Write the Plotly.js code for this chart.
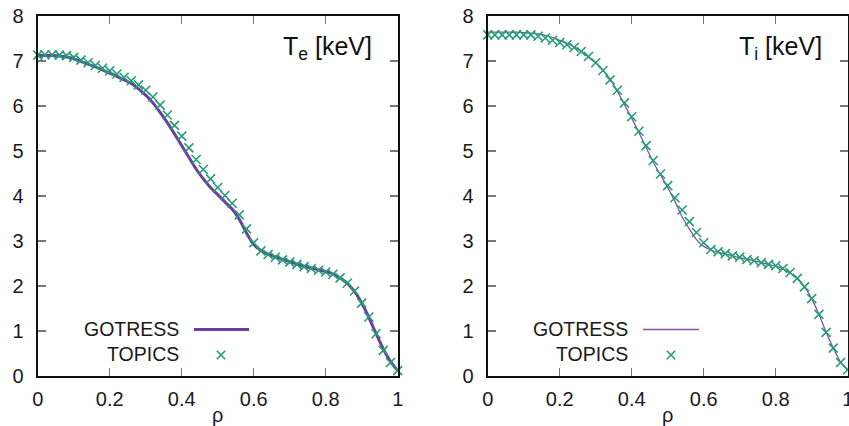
<!DOCTYPE html>
<html><head><meta charset="utf-8">
<script src="https://cdn.plot.ly/plotly-3.0.1.min.js"></script>
<style>html,body{margin:0;padding:0;background:#fff}</style>
</head><body><div id="chart" style="width:849px;height:426px"></div>
<script>
// ---- data ----
const rho = [0,0.02,0.04,0.06,0.08,0.10,0.12,0.14,0.16,0.18,0.20,0.22,0.24,0.26,0.28,0.30,0.32,0.34,0.36,0.38,0.40,0.42,0.44,0.46,0.48,0.50,0.52,0.54,0.56,0.58,0.60,0.62,0.64,0.66,0.68,0.70,0.72,0.74,0.76,0.78,0.80,0.82,0.84,0.86,0.88,0.90,0.92,0.94,0.96,0.98,1.00];
const teGotress = [7.12,7.12,7.12,7.11,7.09,7.05,6.99,6.93,6.87,6.80,6.73,6.66,6.58,6.50,6.38,6.24,6.07,5.86,5.63,5.38,5.12,4.86,4.60,4.38,4.19,4.03,3.87,3.71,3.48,3.18,2.92,2.79,2.71,2.65,2.59,2.54,2.49,2.44,2.40,2.36,2.32,2.27,2.18,2.06,1.88,1.62,1.30,0.94,0.60,0.32,0.12];
const teTopics = [7.13,7.14,7.14,7.13,7.12,7.08,7.02,6.96,6.90,6.84,6.78,6.71,6.64,6.56,6.47,6.35,6.20,6.02,5.80,5.57,5.33,5.07,4.81,4.59,4.38,4.19,4.01,3.84,3.58,3.27,2.96,2.78,2.70,2.64,2.58,2.53,2.48,2.43,2.39,2.35,2.31,2.26,2.18,2.06,1.89,1.62,1.31,0.94,0.57,0.30,0.12];
const tiGotress = [7.64,7.64,7.64,7.64,7.64,7.63,7.62,7.60,7.57,7.52,7.46,7.39,7.31,7.21,7.09,6.96,6.80,6.59,6.33,6.03,5.73,5.41,5.08,4.75,4.47,4.19,3.88,3.54,3.27,3.03,2.88,2.80,2.75,2.71,2.67,2.63,2.60,2.56,2.52,2.48,2.44,2.38,2.29,2.16,1.98,1.72,1.37,0.97,0.62,0.31,0.13];
const tiTopics = [7.58,7.58,7.58,7.58,7.58,7.58,7.58,7.55,7.51,7.46,7.41,7.36,7.30,7.21,7.10,6.96,6.79,6.58,6.35,6.07,5.76,5.44,5.12,4.79,4.49,4.23,3.96,3.69,3.43,3.19,2.96,2.81,2.76,2.72,2.67,2.64,2.59,2.56,2.52,2.48,2.45,2.39,2.30,2.17,1.98,1.72,1.37,0.97,0.62,0.30,0.14];
const xTickVals = [0,0.2,0.4,0.6,0.8,1];
const xTickText = ['0','0.2','0.4','0.6','0.8','1'];
const yTickVals = [0,1,2,3,4,5,6,7,8];
const yTickText = ['0','1','2','3','4','5','6','7','8'];
const seriesNames = ['GOTRESS','TOPICS'];

// ---- style ----
const W = 849, H = 426;
const px = v => v / W, py = v => 1 - v / H;
const FONT = 'Liberation Sans, Arial, Helvetica, sans-serif';
const purple = '#6c3ea0', purpleLight = '#8055b0', green = '#239e74';
const TXT = '#1a1a1a', FS = 20, LFS = 19.5;

function line(x, y, xa, ya, width, color) {
  return {x, y, xaxis: xa, yaxis: ya, mode: 'lines', type: 'scatter', line: {color, width, shape: 'spline', smoothing: 0.6}, showlegend: false, hoverinfo: 'skip'};
}
function marks(x, y, xa, ya) {
  return {x, y, xaxis: xa, yaxis: ya, mode: 'markers', type: 'scatter', cliponaxis: false,
    marker: {symbol: 'x-thin', size: 9, color: green, line: {color: green, width: 1.6}}, showlegend: false, hoverinfo: 'skip'};
}

const traces = [
  line(rho, teGotress, 'x', 'y', 3, purple),
  marks(rho, teTopics, 'x', 'y'),
  line(rho, tiGotress, 'x2', 'y2', 1.3, purpleLight),
  marks(rho, tiTopics, 'x2', 'y2')
];

function xax(domain, anchor) {
  return {domain, anchor, range: [0, 1], tickvals: xTickVals, ticktext: xTickText,
    ticks: 'inside', ticklen: 8, tickwidth: 1.5, tickcolor: '#777', mirror: 'ticks',
    showline: true, linecolor: '#111', linewidth: 2, showgrid: false, zeroline: false,
    tickfont: {family: FONT, size: FS, color: TXT}, ticklabelstandoff: 4, ticklabeloverflow: 'allow',
    title: {text: 'ρ', font: {family: FONT, size: FS, color: TXT}, standoff: 0}, automargin: false, fixedrange: true};
}
function yax(domain, anchor) {
  return {domain, anchor, range: [0, 8], tickvals: yTickVals, ticktext: yTickText,
    ticks: 'inside', ticklen: 8, tickwidth: 1.5, tickcolor: '#777', mirror: 'ticks',
    showline: true, linecolor: '#111', linewidth: 2, showgrid: false, zeroline: false,
    tickfont: {family: FONT, size: FS, color: TXT}, ticklabelstandoff: 8, ticklabeloverflow: 'allow', automargin: false, fixedrange: true};
}

const yDom = [(H - 376) / H, (H - 16) / H];
const panels = [
  {left: 37.7, textRight: 181, lineX: [194, 249], markX: 221, lw: 3, lc: purple, title: 'T<sub>e</sub> [keV]'},
  {left: 487.7, textRight: 630, lineX: [643, 699], markX: 671, lw: 1.3, lc: purpleLight, title: 'T<sub>i</sub> [keV]'}
];

const annotations = [], shapes = [];
panels.forEach(p => {
  annotations.push({xref: 'paper', yref: 'paper', x: px(p.left + 336), y: py(48), xanchor: 'right', yanchor: 'middle',
    text: p.title, showarrow: false, font: {family: FONT, size: 25, color: '#111'}});
  annotations.push({xref: 'paper', yref: 'paper', x: px(p.textRight), y: py(329), xanchor: 'right', yanchor: 'middle',
    text: seriesNames[0], showarrow: false, font: {family: FONT, size: LFS, color: TXT}});
  annotations.push({xref: 'paper', yref: 'paper', x: px(p.textRight), y: py(354), xanchor: 'right', yanchor: 'middle',
    text: seriesNames[1], showarrow: false, font: {family: FONT, size: LFS, color: TXT}});
  shapes.push({type: 'line', xref: 'paper', yref: 'paper', x0: px(p.lineX[0]), x1: px(p.lineX[1]), y0: py(329.5), y1: py(329.5),
    line: {color: p.lc, width: p.lw}});
  const c = p.markX, r = 4.2, cy = 355;
  shapes.push({type: 'path', xref: 'paper', yref: 'paper',
    path: `M ${px(c - r)} ${py(cy - r)} L ${px(c + r)} ${py(cy + r)} M ${px(c - r)} ${py(cy + r)} L ${px(c + r)} ${py(cy - r)}`,
    line: {color: green, width: 1.6}});
});

const layout = {
  width: W, height: H, margin: {l: 0, r: 0, t: 0, b: 0},
  paper_bgcolor: '#fff', plot_bgcolor: '#fff', showlegend: false,
  xaxis: xax([37.7 / W, 397.7 / W], 'y'),
  yaxis: yax(yDom, 'x'),
  xaxis2: xax([487.7 / W, 847.7 / W], 'y2'),
  yaxis2: yax(yDom, 'x2'),
  annotations, shapes
};

Plotly.newPlot('chart', traces, layout, {staticPlot: true, displayModeBar: false});
</script></body></html>
